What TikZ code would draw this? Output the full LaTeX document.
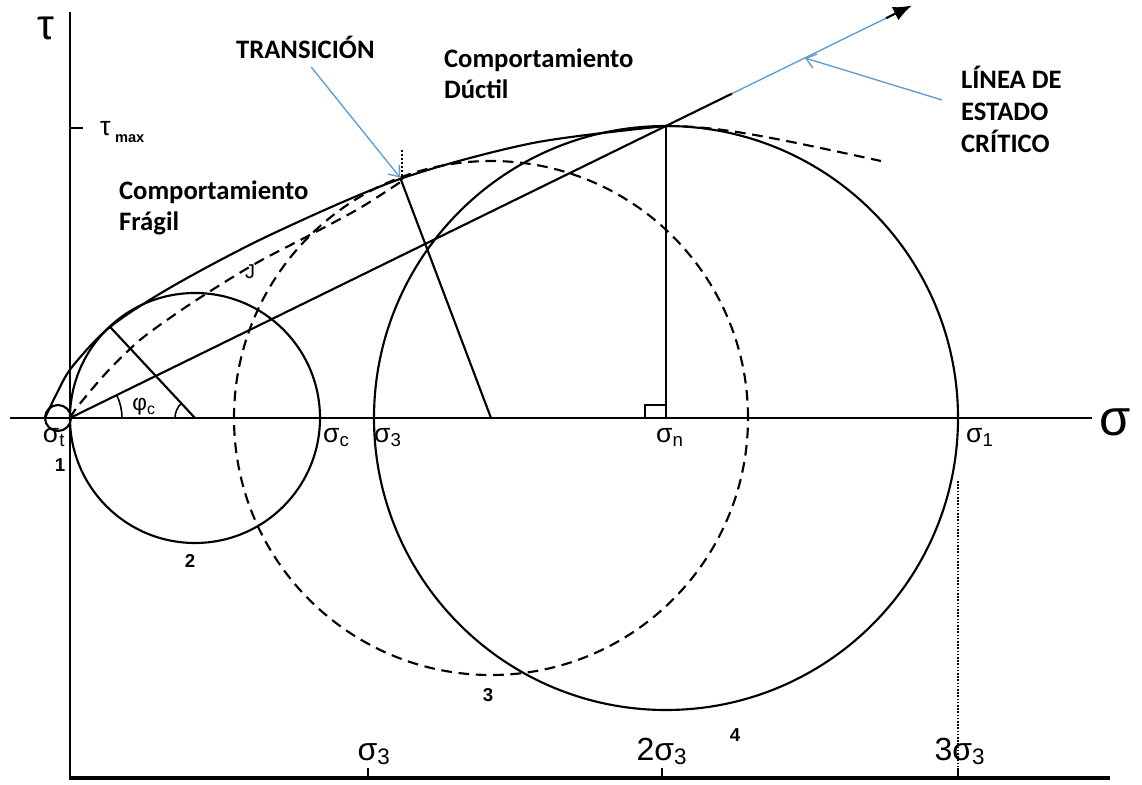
\documentclass[tikz,border=0pt]{standalone}
\usepackage{fontspec}
\setmainfont{Liberation Sans}
\newfontfamily\notefont{Carlito}
\usetikzlibrary{arrows.meta}
\definecolor{noteblue}{RGB}{91,155,213}

\begin{document}
\begin{tikzpicture}[x=0.75pt, y=0.75pt, line width=1.6pt,
  lbl/.style={inner sep=0pt, font=\fontsize{20}{24}\selectfont},
  num/.style={inner sep=0pt, font=\fontsize{14}{16}\selectfont\bfseries},
  note/.style={inner sep=0pt, align=left, font=\notefont\bfseries\fontsize{20}{23}\selectfont},
  pointer/.style={draw=noteblue, line width=1pt, -{Straight Barb[length=7pt,width=11pt]}},
  dashline/.style={dash pattern=on 8pt off 5pt}]
\useasboundingbox (-70,-367) rectangle (1072,418);
% axes
\draw (0,-362) -- (0,406);
\draw (-60,0) -- (1022,0);
\draw[line width=3pt] (0,-360) -- (1040,-360);
\draw (0,290) -- (13,290);
\node[lbl, font=\fontsize{32}{34}\selectfont] (tau) at (-24,390) {τ};
\node[lbl, anchor=west] (taumax) at (29,286) {τ\,\raisebox{-5pt}{\fontsize{11}{12}\selectfont\bfseries max}};
\node[lbl, font=\fontsize{38}{40}\selectfont, anchor=west] (sigma) at (1028,-4) {σ};
\foreach \xx in {298,592,888} \draw[line width=1.1pt] (\xx,-360) -- (\xx,-350);
\node[lbl, font=\fontsize{24}{26}\selectfont, anchor=base] (bot1) at (304,-342) {σ\textsubscript{3}};
\node[lbl, font=\fontsize{24}{26}\selectfont, anchor=base] (bot2) at (592,-342) {2σ\textsubscript{3}};
\node[lbl, font=\fontsize{24}{26}\selectfont, anchor=base] (bot3) at (890,-342) {3σ\textsubscript{3}};
% circles
\coordinate (O) at (0,0);
\coordinate (c1) at (-12,0);
\coordinate (c2) at (125,0);
\coordinate (c3) at (421,0);
\coordinate (c4) at (596,0);
\coordinate (peak) at (596,292);
\draw (c1) circle (13);
\draw (c2) circle (125);
\draw[dashline] (c3) circle (257);
\draw (c4) circle (292);
% radii and angles
\draw (c2) -- ++(133:125) coordinate (t2);
\draw (c3) -- ++(110.7:257) coordinate (trans);
\draw[line width=1.2pt] (52,0) arc (0:26:52);
\draw[line width=1.2pt] (105,0) arc (180:133:20);
\draw (c4) -- (peak);
\draw[line width=1.2pt] (575,0) |- (596,13);
% envelopes
\draw plot[smooth] coordinates {(-25,0) (-13,25) (2,51) (40,91) (103,132) (200,183) (330,239) (463,275) (596,292)};
\draw[dashline] (peak) .. controls (650,292) and (700,281) .. (811,257);
\draw[dashline] plot[smooth] coordinates {(0,0) (8,12) (37,46) (70,78) (110,107) (150,133) (190,157) (240,183) (290,210) (332,237)};
\draw[line width=1.5pt, dash pattern=on 1.5pt off 1.5pt] (332,238) -- (332,268);
\draw[line width=1.2pt, dash pattern=on 1.2pt off 1.2pt] (888,-63) -- (888,-360);
% critical state line
\coordinate (bluestart) at (662,324.4);
\coordinate (blueend) at (816,399.8);
\coordinate (tip) at (842,412.6);
\draw (O) -- (bluestart);
\draw[noteblue, line width=1pt] (bluestart) -- (blueend);
\draw[-{Latex[length=14pt,width=11pt]}] (blueend) -- (tip);
% labels
\node[lbl, anchor=north] (sigt) at (-16,-9) {σ\textsubscript{t}};
\node[lbl, anchor=north west] (sigc) at (252,-9) {σ\textsubscript{c}};
\node[lbl, anchor=north west] (sig3) at (303,-9) {σ\textsubscript{3}};
\node[lbl, anchor=north west] (sign) at (585,-9) {σ\textsubscript{n}};
\node[lbl, anchor=north west] (sig1) at (895,-9) {σ\textsubscript{1}};
\node[lbl, font=\fontsize{17}{20}\selectfont] (phic) at (74,11) {φ\textsubscript{c}};
\node[lbl, font=\fontsize{15}{18}\selectfont] (jlab) at (180,146) {J};
\node[num] (n1) at (-10,-47) {1};
\node[num] (n2) at (120,-143) {2};
\node[num] (n3) at (418,-277) {3};
\node[num] (n4) at (665,-317) {4};
\node[note, anchor=north west] (fragil) at (48,238) {Comportamiento\\Frágil};
\node[note, anchor=north west] (ductil) at (373,370) {Comportamiento\\Dúctil};
\node[note, anchor=north west] (transicion) at (165,383) {TRANSICIÓN};
\node[note, anchor=north west, font=\notefont\bfseries\fontsize{20}{24}\selectfont] (linea) at (890,353) {LÍNEA DE\\ESTADO\\CRÍTICO};
\coordinate (lineatail) at (872,318);
\coordinate (cslhit) at (735,360);
\draw[pointer, shorten <=7pt] (transicion.south) -- (trans);
\draw[pointer] (lineatail) -- (cslhit);
\end{tikzpicture}
\end{document}
